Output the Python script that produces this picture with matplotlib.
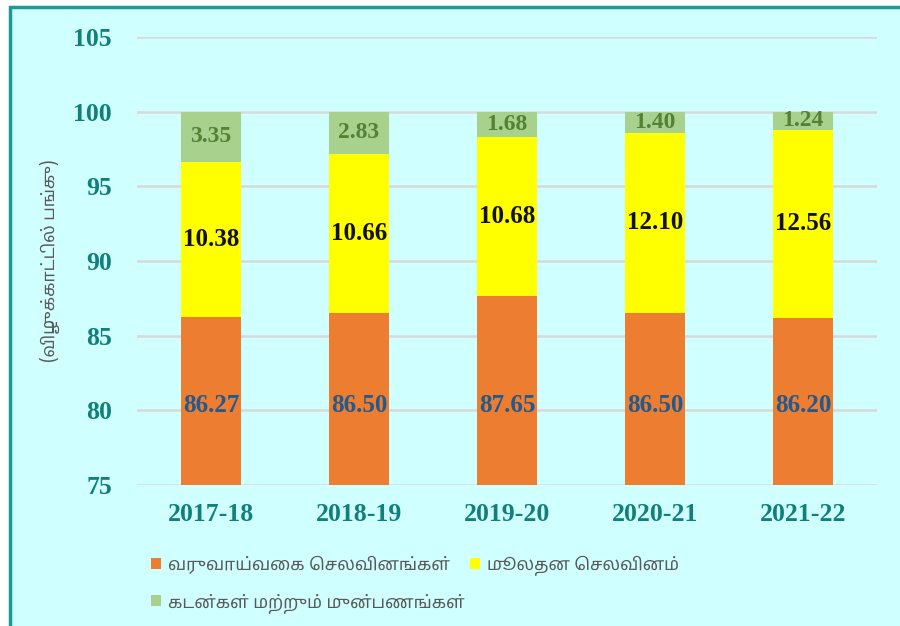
import matplotlib.pyplot as plt
from matplotlib.patches import Rectangle
import numpy as np

years = ["2017-18", "2018-19", "2019-20", "2020-21", "2021-22"]
revenue = [86.27, 86.50, 87.65, 86.50, 86.20]
capital = [10.38, 10.66, 10.68, 12.10, 12.56]
loans = [3.35, 2.83, 1.68, 1.40, 1.24]
series_names = ["வருவாய்வகை செலவினங்கள்", "மூலதன செலவினம்", "கடன்கள் மற்றும் முன்பணங்கள்"]
y_label = "(விழுக்காட்டில் பங்கு)"

tamil_font = ["Noto Sans Tamil", "Lohit Tamil", "Latha", "Noto Sans", "DejaVu Sans"]
teal = "#11807b"
bg = "#d0ffff"


def visual_order(s):
    # no text shaping in matplotlib: move the pre-base vowel signs in front of their consonant
    pre = ("\u0bc6", "\u0bc7", "\u0bc8")
    out = []
    for ch in s:
        if ch in pre and out:
            cons = out.pop()
            out.append(ch)
            out.append(cons)
        else:
            out.append(ch)
    return "".join(out)


fig = plt.figure(figsize=(9, 6.26), dpi=100, facecolor="white")
fig.patches.append(Rectangle((10 / 900, -0.1), 1.1, 1 - 7 / 626 + 0.1,
                             transform=fig.transFigure, facecolor=bg,
                             edgecolor="#1a9a93", linewidth=2.5, zorder=-10))
ax = fig.add_axes([137 / 900, 1 - 485 / 626, 740 / 900, 448 / 626])
ax.set_facecolor(bg)
ax.set_zorder(1)

x = np.arange(len(years))
w = 0.4
rev = np.array(revenue)
cap = np.array(capital)
lo = np.array(loans)

b1 = ax.bar(x, rev, w, color="#ed7d31", zorder=2)
b2 = ax.bar(x, cap, w, bottom=rev, color="#ffff00", zorder=2)
b3 = ax.bar(x, lo, w, bottom=rev + cap, color="#a9d18e", zorder=2)

for i in range(len(years)):
    ax.text(x[i], 80.3, f"{rev[i]:.2f}", ha="center", va="center",
            fontsize=18, fontweight="bold", fontfamily="Liberation Serif",
            color="#215a8c", zorder=3)
    ax.text(x[i], rev[i] + cap[i] / 2, f"{cap[i]:.2f}", ha="center", va="center",
            fontsize=18, fontweight="bold", fontfamily="Liberation Serif",
            color="#111111", zorder=3)
    ax.text(x[i], rev[i] + cap[i] + lo[i] / 2, f"{lo[i]:.2f}", ha="center", va="center",
            fontsize=17, fontweight="bold", fontfamily="Liberation Serif",
            color="#548235", zorder=3)

ax.set_ylim(75, 105)
ax.set_xlim(-0.5, len(years) - 0.5)
ax.set_yticks([75, 80, 85, 90, 95, 100, 105])
ax.set_xticks(x)
ax.set_xticklabels(years)
for lbl in ax.get_xticklabels() + ax.get_yticklabels():
    lbl.set_fontfamily("Liberation Serif")
    lbl.set_fontweight("bold")
    lbl.set_fontsize(18.5)
    lbl.set_color(teal)
ax.tick_params(axis="y", length=0, pad=18)
ax.tick_params(axis="x", length=0, pad=13)
ax.grid(axis="y", color="#d9d9d9", linewidth=1.8, zorder=0)
for s in ax.spines.values():
    s.set_visible(False)

ax.set_ylabel(visual_order(y_label), fontfamily=tamil_font, fontsize=12.5,
              color="#595959")
ax.yaxis.set_label_coords(-0.104, 0.5)

names = [visual_order(n) for n in series_names]
leg = fig.legend(handles=[b1, b3, b2], labels=[names[0], names[2], names[1]],
                 loc="upper left", bbox_to_anchor=(135 / 900, 1 - 540 / 626),
                 ncol=2, frameon=False, prop={"family": tamil_font, "size": 12.5},
                 handlelength=0.6, handleheight=0.6, handletextpad=0.4,
                 columnspacing=0.3, labelspacing=1.1, labelcolor="#595959")

fig.savefig("out.png", dpi=100, facecolor=fig.get_facecolor())
